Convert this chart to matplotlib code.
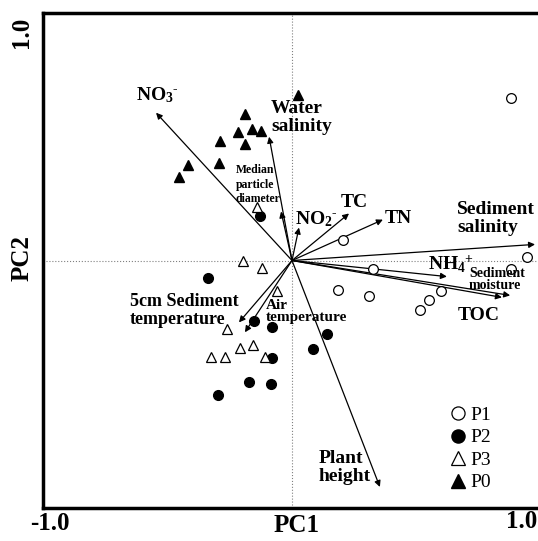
import numpy as np
import matplotlib.pyplot as plt

plt.rcParams['font.family'] = ['Liberation Serif', 'DejaVu Serif']
plt.rcParams['mathtext.fontset'] = 'custom'
plt.rcParams['mathtext.rm'] = 'Liberation Serif:bold'
plt.rcParams['mathtext.it'] = 'Liberation Serif:bold'
plt.rcParams['mathtext.bf'] = 'Liberation Serif:bold'

# sample scores
p1_x = [0.880, 0.205, 0.325, 0.944, 0.880, 0.185, 0.309, 0.598, 0.550, 0.514]
p1_y = [0.657, 0.081, -0.036, 0.016, -0.036, -0.121, -0.145, -0.125, -0.161, -0.202]
p2_x = [-0.129, -0.337, -0.153, -0.080, -0.080, -0.173, -0.084, -0.297, 0.141, 0.084]
p2_y = [0.181, -0.069, -0.246, -0.270, -0.395, -0.492, -0.500, -0.544, -0.298, -0.359]
p3_x = [-0.141, -0.197, -0.120, -0.060, -0.261, -0.209, -0.157, -0.325, -0.269, -0.108]
p3_y = [0.218, -0.004, -0.032, -0.125, -0.278, -0.355, -0.343, -0.391, -0.391, -0.391]
p0_x = [0.024, -0.189, -0.217, -0.161, -0.124, -0.289, -0.189, -0.418, -0.454, -0.293]
p0_y = [0.669, 0.593, 0.520, 0.532, 0.524, 0.484, 0.472, 0.387, 0.339, 0.395]

# variable loadings
var_names = ['NO3', 'Water salinity', 'Median particle diameter', 'NO2', 'TC', 'TN',
             'Sediment salinity', 'NH4', 'Sediment moisture', 'TOC', 'Plant height',
             '5cm Sediment temperature', 'Air temperature']
load_x = [-0.546, -0.092, -0.044, 0.028, 0.229, 0.365, 0.976, 0.622, 0.876, 0.843, 0.353, -0.213, -0.189]
load_y = [0.597, 0.500, 0.198, 0.133, 0.190, 0.165, 0.065, -0.065, -0.141, -0.149, -0.915, -0.250, -0.290]

W, H = 538, 541
fig = plt.figure(figsize=(W / 100, H / 100), dpi=100)
ax = fig.add_axes([43 / W, 1 - 508 / H, 1 - 43 / W, (508 - 13) / H])
ax.set_xlim(-1, (538 - 292) / 249)
ax.set_ylim(-1, 1)

ax.axhline(0, color='grey', lw=0.8, ls=':', zorder=1)
ax.axvline(0, color='grey', lw=0.8, ls=':', zorder=1)

for x, y in zip(load_x, load_y):
    ax.annotate('', xy=(x, y), xytext=(0, 0),
                arrowprops=dict(arrowstyle='-|>', lw=0.9, color='black',
                                mutation_scale=9, shrinkA=0, shrinkB=0), zorder=2)

ms = 7
ax.plot(p1_x, p1_y, 'o', ms=ms, mfc='white', mec='black', mew=0.9, label='P1', zorder=3)
ax.plot(p2_x, p2_y, 'o', ms=ms, mfc='black', mec='black', label='P2', zorder=3)
ax.plot(p3_x, p3_y, '^', ms=ms + 0.5, mfc='white', mec='black', mew=0.9, label='P3', zorder=3)
ax.plot(p0_x, p0_y, '^', ms=ms + 0.5, mfc='black', mec='black', label='P0', zorder=3)

bold = dict(fontweight='bold', va='center')
ax.text(-0.542, 0.669, r'NO$_3$$^{\text{-}}$', ha='center', fontsize=14, **bold)
ax.text(-0.084, 0.577, 'Water\nsalinity', ha='left', fontsize=14, linespacing=1.1, **bold)
ax.text(-0.225, 0.306, 'Median\nparticle\ndiameter', ha='left', fontsize=8.5, linespacing=1.3, **bold)
ax.text(0.012, 0.169, r'NO$_2$$^{\text{-}}$', ha='left', fontsize=14, **bold)
ax.text(0.249, 0.234, 'TC', ha='center', fontsize=14, **bold)
ax.text(0.373, 0.169, 'TN', ha='left', fontsize=14, **bold)
ax.text(0.663, 0.169, 'Sediment\nsalinity', ha='left', fontsize=14, linespacing=1.1, **bold)
ax.text(0.546, -0.016, r'NH$_4$$^{+}$', ha='left', fontsize=14, **bold)
ax.text(0.711, -0.077, 'Sediment\nmoisture', ha='left', fontsize=10, linespacing=0.95, **bold)
ax.text(0.751, -0.222, 'TOC', ha='center', fontsize=14, **bold)
ax.text(0.108, -0.835, 'Plant\nheight', ha='left', fontsize=14, linespacing=1.1, **bold)
ax.text(-0.651, -0.202, '5cm Sediment\ntemperature', ha='left', fontsize=13, linespacing=1.1, **bold)
ax.text(-0.104, -0.206, 'Air\ntemperature', ha='left', fontsize=11, linespacing=0.9, **bold)

ax.legend(loc='upper left', bbox_to_anchor=(0.80, 0.225), frameon=False,
          fontsize=14, handletextpad=0.1, labelspacing=0.25, markerscale=1.35,
          handlelength=1.0, borderpad=0)

ax.set_xticks([])
ax.set_yticks([])
for side in ['left', 'top', 'bottom']:
    ax.spines[side].set_linewidth(2.5)
ax.spines['right'].set_visible(False)

axis_font = dict(ha='center', va='center', fontsize=18, fontweight='bold')
fig.text(22 / W, 1 - 32 / H, '1.0', rotation=90, **axis_font)
fig.text(22 / W, 1 - 258 / H, 'PC2', rotation=90, **axis_font)
fig.text(50 / W, 1 - 524 / H, '-1.0', **axis_font)
fig.text(297 / W, 1 - 526 / H, 'PC1', **axis_font)
fig.text(522 / W, 1 - 522 / H, '1.0', **axis_font)

fig.savefig('out.png', dpi=100)
